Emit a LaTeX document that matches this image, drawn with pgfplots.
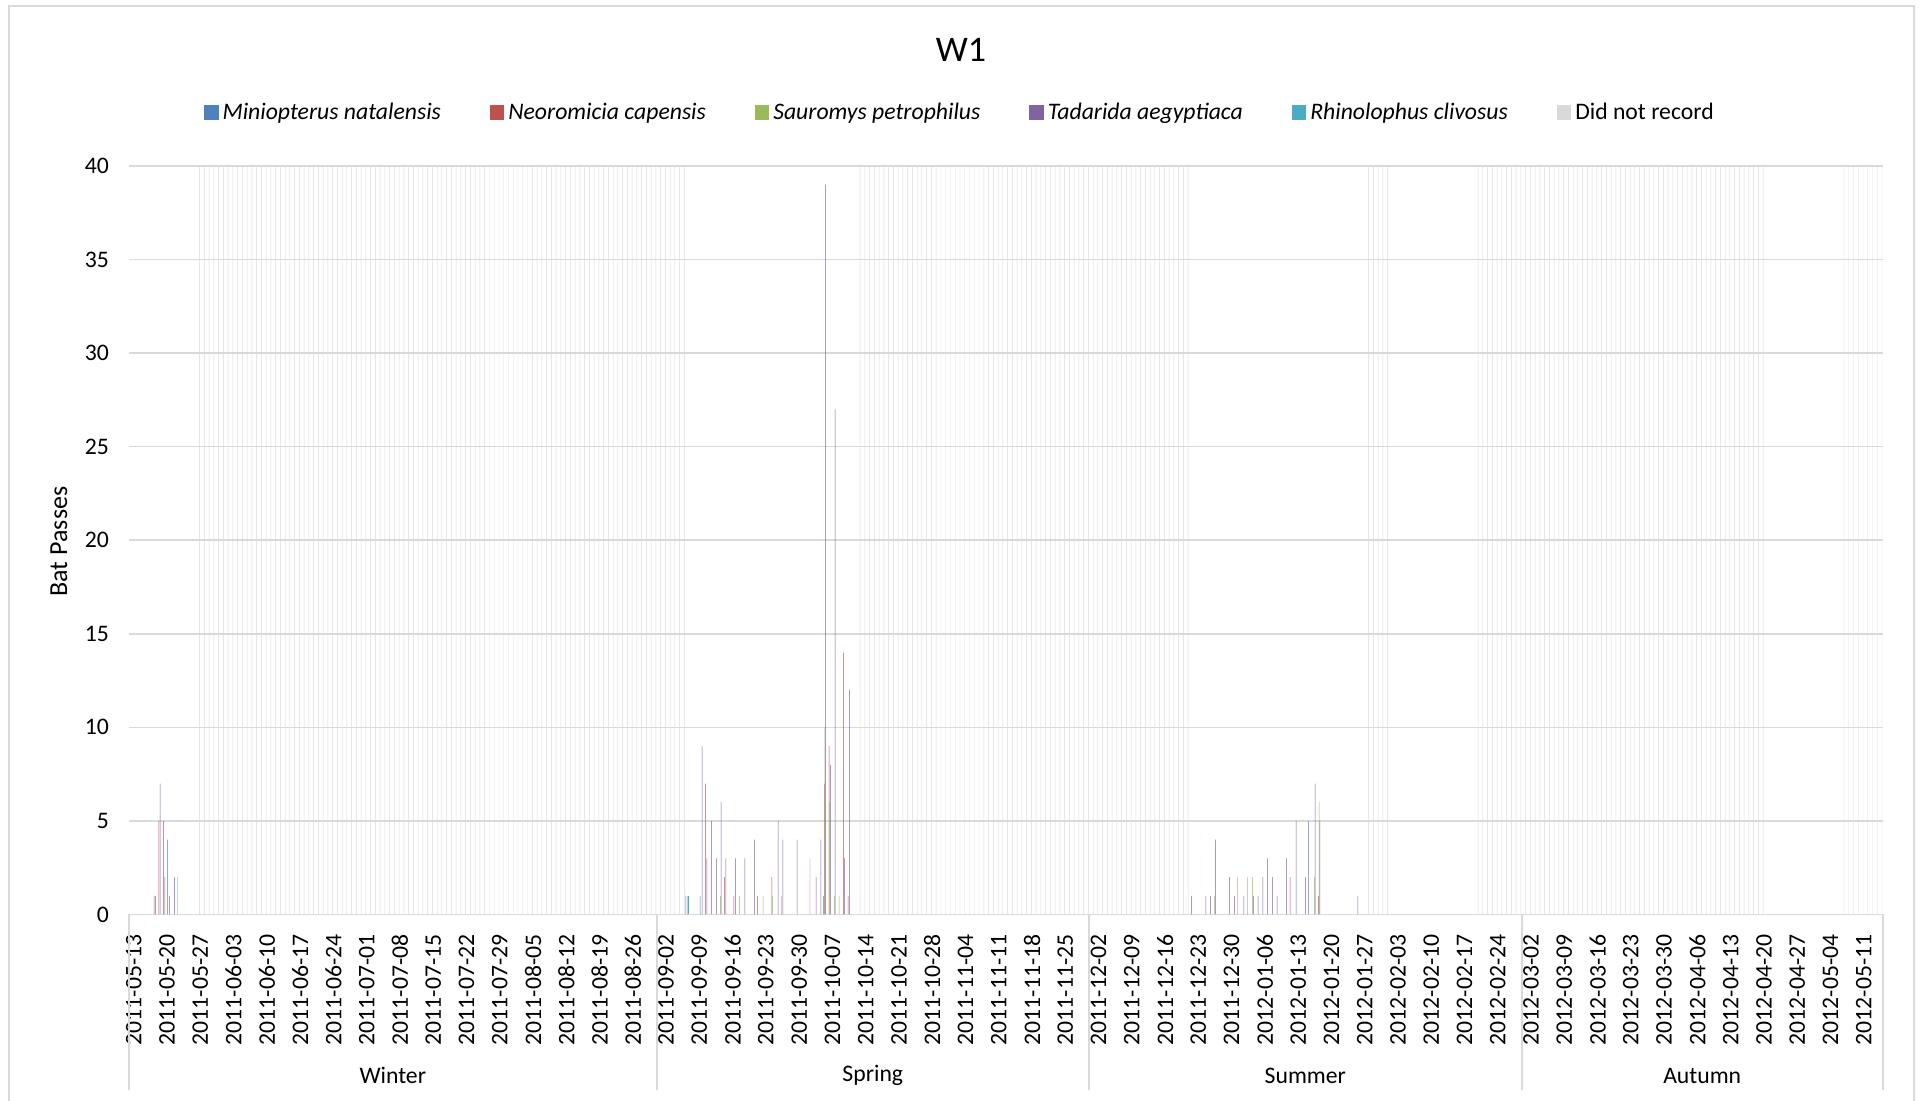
\documentclass[border=0pt]{standalone}
\usepackage{pgfplots}
\pgfplotsset{compat=1.18}
\usepackage{fontspec}
\setmainfont{Carlito}

\definecolor{cMin}{HTML}{4F81BD}
\definecolor{cNeo}{HTML}{C0504D}
\definecolor{cSau}{HTML}{9BBB59}
\definecolor{cTad}{HTML}{8064A2}
\definecolor{cRhi}{HTML}{4BACC6}
\definecolor{cDid}{HTML}{D9D9D9}
\definecolor{cGrid}{HTML}{D9D9D9}
\newcommand{\tf}{\fontsize{11.85pt}{14pt}\selectfont}

\begin{document}
\begin{tikzpicture}
\useasboundingbox (0,0) rectangle (960.5pt,550.5pt);
% chart area frame
\draw[cGrid, line width=1pt] (4.3pt,-5pt) -- (4.3pt,547.25pt) -- (957pt,547.25pt) -- (957pt,-5pt);
\node[font=\fontsize{18pt}{21pt}\selectfont] at (480.5pt,525.5pt) {W1};

\begin{axis}[
    at={(64.5pt,93.25pt)}, anchor=south west,
    scale only axis, width=876.85pt, height=374.25pt,
    xmin=-0.5, xmax=368.5, ymin=0, ymax=40,
    ytick={0,5,...,40},
    xtick={0,7,...,364},
    xticklabels={2011-05-13,2011-05-20,2011-05-27,2011-06-03,2011-06-10,2011-06-17,2011-06-24,
      2011-07-01,2011-07-08,2011-07-15,2011-07-22,2011-07-29,2011-08-05,2011-08-12,2011-08-19,
      2011-08-26,2011-09-02,2011-09-09,2011-09-16,2011-09-23,2011-09-30,2011-10-07,2011-10-14,
      2011-10-21,2011-10-28,2011-11-04,2011-11-11,2011-11-18,2011-11-25,2011-12-02,2011-12-09,
      2011-12-16,2011-12-23,2011-12-30,2012-01-06,2012-01-13,2012-01-20,2012-01-27,2012-02-03,
      2012-02-10,2012-02-17,2012-02-24,2012-03-02,2012-03-09,2012-03-16,2012-03-23,2012-03-30,
      2012-04-06,2012-04-13,2012-04-20,2012-04-27,2012-05-04,2012-05-11},
    ymajorgrids, grid style={cGrid, line width=0.8pt},
    axis line style={draw=none},
    major tick length=0pt,
    tick label style={font=\tf, black},
    /pgf/number format/assume math mode=true,
    xticklabel style={xshift=1.2pt, rotate=90, anchor=east},
    xticklabel shift=6.5pt,
    yticklabel shift=6.5pt,
    ylabel={Bat Passes},
    ylabel style={font=\fontsize{13pt}{15pt}\selectfont, at={(axis description cs:-0.0400,0.4983)}, anchor=center},
    legend columns=6,
    legend style={at={(0.4744,1.0712)}, anchor=center, draw=none, fill=none, font=\tf,
      /tikz/every even column/.append style={column sep=22.5pt}},
    legend image code/.code={\fill[#1] (0pt,-3.6pt) rectangle (7.2pt,3.6pt);},
]
\addplot[ybar, bar width=0.1, bar shift=-0.35, fill=cMin, draw=none] coordinates {
  (8,4) (10,2) (117,1) (120,1) (146,1) (248,5)
};
\addlegendentry{\itshape Miniopterus natalensis}
\addplot[ybar, bar width=0.1, bar shift=-0.21, fill=cNeo, draw=none] coordinates {
  (5,1) (6,5) (7,5) (121,7) (125,2) (127,1) (132,1) (135,2) (137,1) (143,3)
  (146,7) (147,9) (150,14) (151,1) (233,2) (235,2) (244,2) (250,1)
};
\addlegendentry{\itshape Neoromicia capensis}
\addplot[ybar, bar width=0.1, bar shift=-0.07, fill=cSau, draw=none] coordinates {
  (124,1) (128,1) (133,1) (135,1) (146,10) (147,6) (148,1) (149,1)
  (228,1) (236,2) (249,2) (250,6)
};
\addlegendentry{\itshape Sauromys petrophilus}
\addplot[ybar, bar width=0.1, bar shift=0.07, fill=cTad, draw=none] coordinates {
  (5,1) (6,7) (7,2) (8,1) (9,2)
  (117,1) (120,9) (121,3) (122,5) (123,3) (124,6) (125,3) (127,3) (129,3) (131,4)
  (136,5) (137,4) (140,4) (144,2) (145,4) (146,39) (147,8) (148,27) (150,3) (151,12)
  (223,1) (226,1) (227,1) (228,4) (231,2) (232,1) (234,1) (236,1) (237,1) (238,2)
  (239,3) (240,2) (241,1) (243,3) (245,5) (247,2) (249,7) (250,5) (258,1)
};
\addlegendentry{\itshape Tadarida aegyptiaca}
\addplot[ybar, bar width=0.1, bar shift=0.21, fill=cRhi, draw=none] coordinates {
  (117,1)
};
\addlegendentry{\itshape Rhinolophus clivosus}
\addplot[ybar, bar width=0.1, bar shift=0.35, fill=cDid, draw=none] coordinates {
  (14,40) (15,40) (16,40) (17,40) (18,40) (19,40) (20,40) (21,40) (22,40) (23,40)
  (24,40) (25,40) (26,40) (27,40) (28,40) (29,40) (30,40) (31,40) (32,40) (33,40)
  (34,40) (35,40) (36,40) (37,40) (38,40) (39,40) (40,40) (41,40) (42,40) (43,40)
  (44,40) (45,40) (46,40) (47,40) (48,40) (49,40) (50,40) (51,40) (52,40) (53,40)
  (54,40) (55,40) (56,40) (57,40) (58,40) (59,40) (60,40) (61,40) (62,40) (63,40)
  (64,40) (65,40) (66,40) (67,40) (68,40) (69,40) (70,40) (71,40) (72,40) (73,40)
  (74,40) (75,40) (76,40) (77,40) (78,40) (79,40) (80,40) (81,40) (82,40) (83,40)
  (84,40) (85,40) (86,40) (87,40) (88,40) (89,40) (90,40) (91,40) (92,40) (93,40)
  (94,40) (95,40) (96,40) (97,40) (98,40) (99,40) (100,40) (101,40) (102,40) (103,40)
  (104,40) (105,40) (106,40) (107,40) (108,40) (109,40) (110,40) (111,40) (112,40) (113,40)
  (114,40) (115,40) (116,40)
  (153,40) (154,40) (155,40) (156,40) (157,40) (158,40) (159,40) (160,40) (161,40) (162,40)
  (163,40) (164,40) (165,40) (166,40) (167,40) (168,40) (169,40) (170,40) (171,40) (172,40)
  (173,40) (174,40) (175,40) (176,40) (177,40) (178,40) (179,40) (180,40) (181,40) (182,40)
  (183,40) (184,40) (185,40) (186,40) (187,40) (188,40) (189,40) (190,40) (191,40) (192,40)
  (193,40) (194,40) (195,40) (196,40) (197,40) (198,40) (199,40) (200,40) (201,40) (202,40)
  (203,40) (204,40) (205,40) (206,40) (207,40) (208,40) (209,40) (210,40) (211,40) (212,40)
  (213,40) (214,40) (215,40) (216,40) (217,40) (218,40) (219,40) (220,40) (221,40) (222,40)
  (260,40) (261,40) (262,40) (263,40) (264,40)
  (283,40) (284,40) (285,40) (286,40) (287,40) (288,40) (289,40) (290,40) (291,40) (292,40)
  (293,40) (294,40) (295,40) (296,40) (297,40) (298,40) (299,40) (300,40) (301,40) (302,40)
  (303,40) (304,40) (305,40) (306,40) (307,40) (308,40) (309,40) (310,40) (311,40) (312,40)
  (313,40) (314,40) (315,40) (316,40) (317,40) (318,40) (319,40) (320,40) (321,40) (322,40)
  (323,40) (324,40) (325,40) (326,40) (327,40) (328,40) (329,40) (330,40) (331,40) (332,40)
  (333,40) (334,40) (335,40) (336,40) (337,40) (338,40) (339,40) (340,40) (341,40) (342,40)
  (343,40)
  (360,40) (361,40) (362,40) (363,40) (364,40) (365,40) (366,40) (367,40) (368,40)
};
\addlegendentry{Did not record}
\end{axis}

% season group separators and labels
\foreach \sx in {64.5,328.27,544.5,760.8,941.35}
  \draw[cGrid, line width=1pt] (\sx pt,93.25pt) -- (\sx pt,5.5pt);
\begin{scope}[font=\tf]
\node at (196.4pt,12.7pt) {Winter};
\node at (436.4pt,12.7pt) {Spring};
\node at (652.65pt,12.7pt) {Summer};
\node at (851.1pt,12.7pt) {Autumn};
\end{scope}
\end{tikzpicture}
\end{document}
